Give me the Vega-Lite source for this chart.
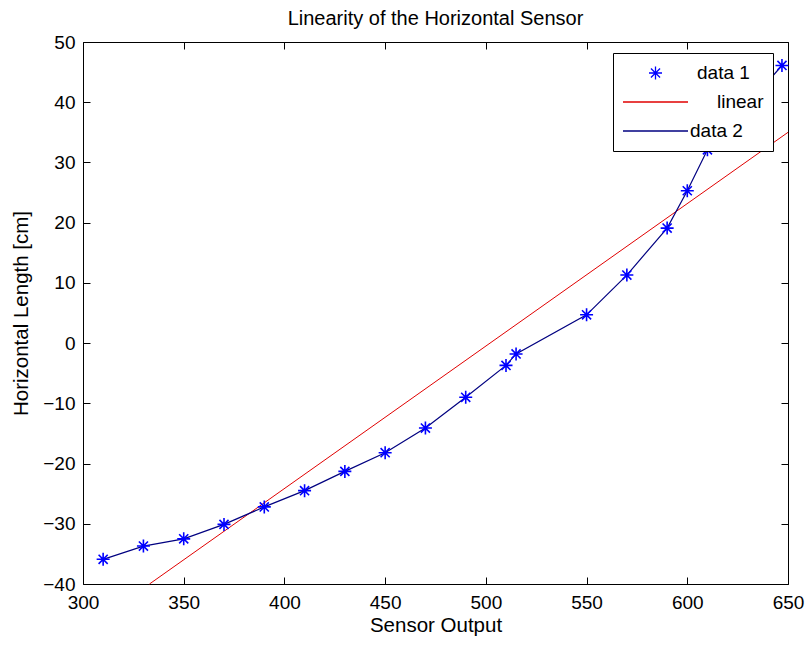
{
  "$schema": "https://vega.github.io/schema/vega-lite/v6.json",
  "width": 705,
  "height": 542,
  "autosize": {"type": "none"},
  "padding": {"left": 83, "top": 42, "right": 18, "bottom": 62},
  "background": "white",
  "title": {"text": "Linearity of the Horizontal Sensor", "fontSize": 20, "fontWeight": "normal", "font": "Liberation Sans", "color": "black", "offset": 4, "anchor": "middle"},
  "datasets": {
    "measured": [
      {"sensor": 310, "length": -35.9},
      {"sensor": 330, "length": -33.7},
      {"sensor": 350, "length": -32.5},
      {"sensor": 370, "length": -30.1},
      {"sensor": 390, "length": -27.2},
      {"sensor": 410, "length": -24.5},
      {"sensor": 430, "length": -21.3},
      {"sensor": 450, "length": -18.2},
      {"sensor": 470, "length": -14.1},
      {"sensor": 490, "length": -9.0},
      {"sensor": 510, "length": -3.7},
      {"sensor": 515, "length": -1.8},
      {"sensor": 550, "length": 4.7},
      {"sensor": 570, "length": 11.3},
      {"sensor": 590, "length": 19.1},
      {"sensor": 600, "length": 25.3},
      {"sensor": 610, "length": 32.1},
      {"sensor": 647, "length": 46.1}
    ],
    "fit": [
      {"sensor": 333, "length": -40},
      {"sensor": 650, "length": 35}
    ]
  },
  "config": {
    "view": {"stroke": null},
    "font": "Liberation Sans",
    "axis": {
      "grid": false,
      "domainColor": "black",
      "domainWidth": 1,
      "tickColor": "black",
      "tickSize": -7,
      "tickWidth": 1,
      "labelColor": "black",
      "labelFontSize": 19,
      "labelFont": "Liberation Sans",
      "labelOverlap": false,
      "labelFlush": false,
      "titleFont": "Liberation Sans",
      "titleFontSize": 20.5,
      "titleFontWeight": "normal",
      "titleColor": "black"
    },
    "legend": {
      "orient": "none",
      "legendX": 530,
      "legendY": 11,
      "direction": "vertical",
      "symbolType": "stroke",
      "symbolSize": 4225,
      "symbolStrokeWidth": 1.2,
      "clipHeight": 22,
      "rowPadding": 7,
      "padding": 9,
      "labelOffset": 1,
      "labelFontSize": 19,
      "labelFont": "Liberation Sans",
      "labelColor": "black",
      "strokeColor": "black",
      "fillColor": "white"
    }
  },
  "resolve": {"axis": {"x": "independent", "y": "independent"}},
  "layer": [
    {
      "data": {"name": "fit"},
      "mark": {"type": "line", "strokeWidth": 1},
      "encoding": {
        "x": {"field": "sensor", "type": "quantitative",
          "scale": {"domain": [300, 650], "nice": false, "zero": false},
          "axis": {"orient": "bottom", "title": "Sensor Output", "values": [300, 350, 400, 450, 500, 550, 600, 650], "labelPadding": 16, "titlePadding": 3}},
        "y": {"field": "length", "type": "quantitative",
          "scale": {"domain": [-40, 50], "nice": false, "zero": false},
          "axis": {"orient": "left", "title": "Horizontal Length [cm]", "values": [-40, -30, -20, -10, 0, 10, 20, 30, 40, 50], "labelPadding": 15, "titlePadding": 11}},
        "color": {"datum": "linear", "type": "nominal",
          "scale": {"domain": ["data 1", "linear", "data 2"], "range": ["#0000ff", "#e00000", "#000080"]},
          "legend": {
            "title": null,
            "encode": {
              "symbols": {"update": {
                "shape": {"signal": "datum.value === 'data 1' ? 'M-0.2,0L0.2,0M0,-0.2L0,0.2M-0.14,-0.14L0.14,0.14M-0.14,0.14L0.14,-0.14' : 'stroke'"},
                "stroke": {"scale": "color", "field": "value"},
                "fill": {"value": "transparent"},
                "strokeWidth": {"value": 1.3}
              }},
              "labels": {"update": {
                "dx": {"signal": "datum.value === 'linear' ? 27 : datum.value === 'data 1' ? 7 : 0"}
              }}
            }
          }}
      }
    },
    {
      "data": {"name": "measured"},
      "mark": {"type": "line", "strokeWidth": 1.2},
      "encoding": {
        "x": {"field": "sensor", "type": "quantitative",
          "axis": {"orient": "top", "labels": false, "title": null, "values": [300, 350, 400, 450, 500, 550, 600, 650]}},
        "y": {"field": "length", "type": "quantitative",
          "axis": {"orient": "right", "labels": false, "title": null, "values": [-40, -30, -20, -10, 0, 10, 20, 30, 40, 50]}},
        "color": {"datum": "data 2", "type": "nominal"}
      }
    },
    {
      "data": {"name": "measured"},
      "mark": {"type": "point", "shape": "M-1,0L1,0M0,-1L0,1M-0.7,-0.7L0.7,0.7M-0.7,0.7L0.7,-0.7", "size": 169, "filled": false, "strokeWidth": 1.6, "opacity": 1},
      "encoding": {
        "x": {"field": "sensor", "type": "quantitative", "axis": null},
        "y": {"field": "length", "type": "quantitative", "axis": null},
        "color": {"datum": "data 1", "type": "nominal"}
      }
    }
  ]
}
